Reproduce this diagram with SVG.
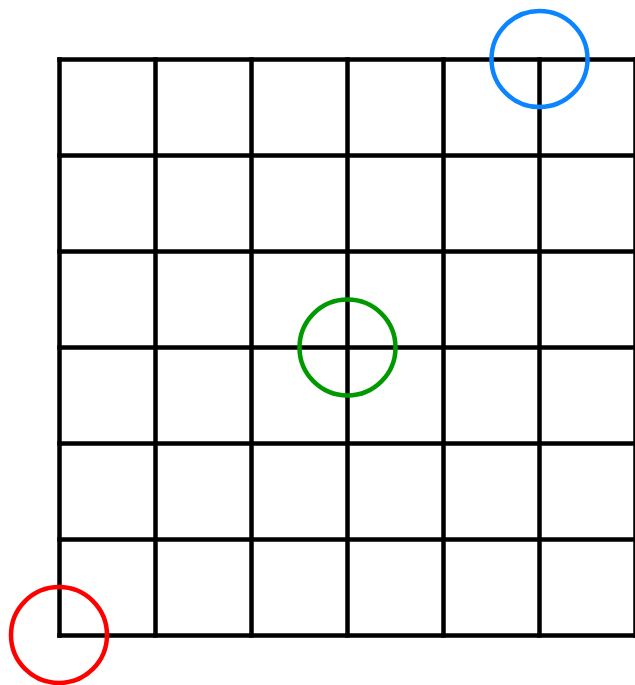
<svg xmlns="http://www.w3.org/2000/svg" width="635" height="685" viewBox="0 0 635 685">
<style>
.g{stroke:#000;stroke-width:4.5;fill:none;stroke-linecap:square}
.c{fill:none;stroke-width:4.5}
</style>
<rect width="635" height="685" fill="#fff"/>
<g id="grid" class="g">
<path d="M59.5 59.5V635.5M155.5 59.5V635.5M251.5 59.5V635.5M347.5 59.5V635.5M443.5 59.5V635.5M539.5 59.5V635.5M635.5 59.5V635.5"/>
<path d="M59.5 59.5H635.5M59.5 155.5H635.5M59.5 251.5H635.5M59.5 347.5H635.5M59.5 443.5H635.5M59.5 539.5H635.5M59.5 635.5H635.5"/>
</g>
<g id="blue"><circle class="c" cx="539.5" cy="59" r="48" stroke="#0a84ff"/></g>
<g id="green"><circle class="c" cx="347.5" cy="347.5" r="48" stroke="#009900"/></g>
<g id="red"><circle class="c" cx="59" cy="635" r="48" stroke="#ff0000"/></g>
</svg>
